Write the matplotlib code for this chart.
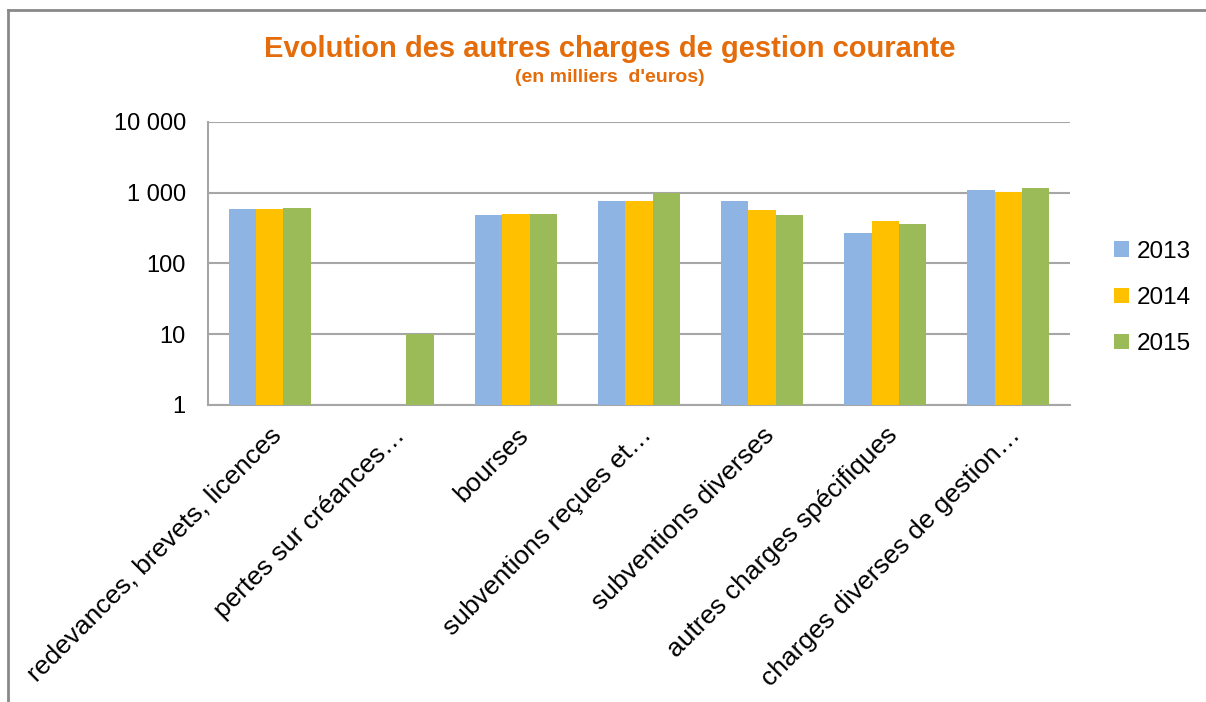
import numpy as np
import matplotlib
matplotlib.use("Agg")
import matplotlib.pyplot as plt
from matplotlib.lines import Line2D

plt.rcParams['font.family'] = ['Liberation Sans', 'DejaVu Sans']

categories = ["redevances, brevets, licences", "pertes sur créances…", "bourses",
              "subventions reçues et…", "subventions diverses",
              "autres charges spécifiques", "charges diverses de gestion…"]
years = ["2013", "2014", "2015"]
v2013 = [590, np.nan, 480, 765, 765, 270, 1090]
v2014 = [590, np.nan, 500, 765, 570, 405, 1010]
v2015 = [615, 10, 500, 1000, 480, 358, 1150]
colors = ["#8EB4E3", "#FFC000", "#9BBB59"]
yticks = [1, 10, 100, 1000, 10000]
ytick_labels = ["1", "10", "100", "1 000", "10 000"]

fig = plt.figure(figsize=(12.06, 7.02), dpi=100)
ax = fig.add_axes([208/1206, 1-405/702, (1070-208)/1206, (405-122)/702])

x = np.arange(len(categories))
w = 0.222
for i, (vals, c, lab) in enumerate(zip([v2013, v2014, v2015], colors, years)):
    ax.bar(x + (i-1)*w, vals, width=w, color=c, label=lab, bottom=0, zorder=3)

ax.set_yscale('log')
ax.set_ylim(1, 10000)
ax.set_xlim(-0.5, len(categories)-0.5)
ax.set_yticks(yticks)
ax.set_yticklabels(ytick_labels, fontsize=17)
ax.yaxis.set_minor_locator(matplotlib.ticker.NullLocator())
ax.set_xticks(x)
ax.set_xticklabels(categories, rotation=45, ha='right', rotation_mode='anchor', fontsize=19)
ax.tick_params(axis='y', length=0, pad=16)
ax.tick_params(axis='x', length=0, pad=13)
ax.grid(axis='y', color='#A6A6A6', lw=1.5, zorder=0)
for s in ['top', 'right']:
    ax.spines[s].set_visible(False)
for s in ['left', 'bottom']:
    ax.spines[s].set_color('#A6A6A6')
    ax.spines[s].set_linewidth(1.5)

leg = ax.legend(loc='center left', bbox_to_anchor=(1.051, 0.378), frameon=False,
                fontsize=17.5, handlelength=0.6, handleheight=0.6, handletextpad=0.35,
                labelspacing=1.0, borderpad=0, borderaxespad=0)

fig.text(0.506, 1-49/702, "Evolution des autres charges de gestion courante",
         color="#E46C0A", fontsize=21, fontweight='bold', ha='center', va='center')
fig.text(0.506, 1-78/702, "(en milliers  d'euros)",
         color="#E46C0A", fontsize=14, fontweight='bold', ha='center', va='center')

fig.add_artist(Line2D([8/1206, 8/1206], [0, 1-10/702], transform=fig.transFigure,
                      color='#898989', lw=2))
fig.add_artist(Line2D([8/1206, 1], [1-10/702, 1-10/702], transform=fig.transFigure,
                      color='#898989', lw=2))

fig.savefig("out.png", dpi=100)
